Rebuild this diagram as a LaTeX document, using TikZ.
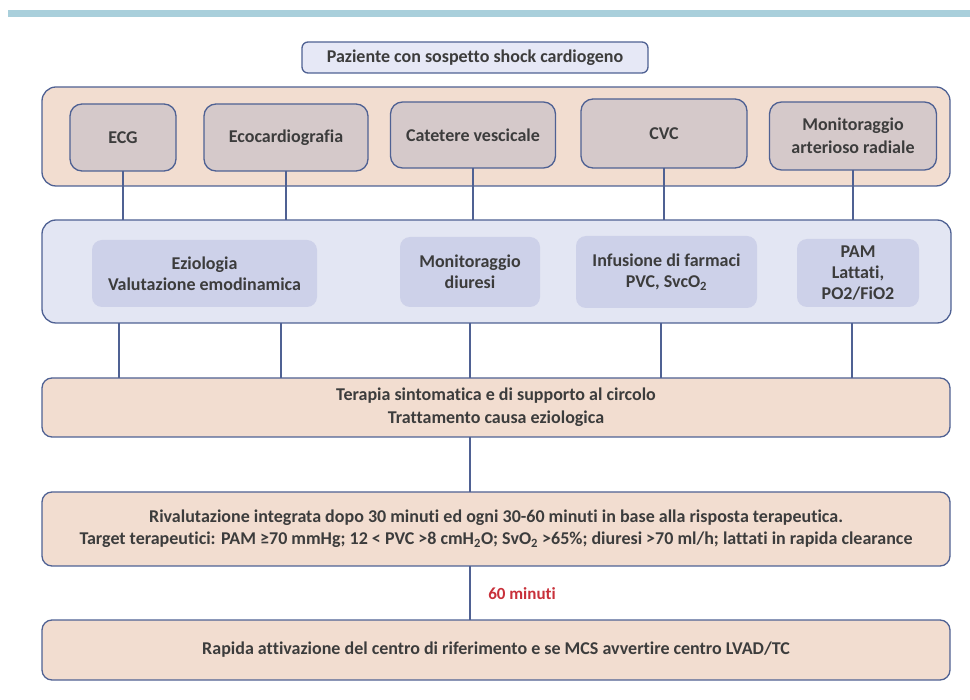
\documentclass[tikz,border=0pt]{standalone}
\usepackage{fontspec}
\setmainfont{Carlito}[Ligatures={NoCommon}]
\definecolor{bar}{HTML}{A9CFDB}
\definecolor{bdr}{HTML}{4F6193}
\definecolor{peach}{HTML}{F2DDD0}
\definecolor{mauve}{HTML}{D5C9CA}
\definecolor{lav}{HTML}{E3E6F3}
\definecolor{lavin}{HTML}{CDD1E9}
\definecolor{titlef}{HTML}{E6E8F6}
\definecolor{txt}{HTML}{3C3C3C}
\definecolor{redt}{HTML}{C8303A}
\tikzset{
  grp/.style={draw=bdr, line width=1.3pt, rounded corners=14pt, inner sep=0pt, outer sep=0pt},
  topbox/.style={draw=bdr, line width=1.3pt, fill=mauve, rounded corners=12pt, inner sep=2pt, outer sep=0pt,
     align=center, text=txt, font=\fontsize{18}{23}\selectfont\bfseries},
  midbox/.style={fill=lavin, rounded corners=10pt, inner sep=2pt, outer sep=0pt,
     align=center, text=txt, font=\fontsize{18}{21}\selectfont\bfseries},
  conn/.style={draw=bdr, line width=1.4pt},
  bigtxt/.style={align=center, text=txt, font=\fontsize{18}{23}\selectfont\bfseries}
}
\begin{document}
\begin{tikzpicture}[x=1pt,y=-1pt]
\useasboundingbox (0,0) rectangle (970,700);
\fill[bar] (8,10) rectangle (970,17);
% title
\node[grp, fill=titlef, rounded corners=6pt, minimum width=346pt, minimum height=31pt, bigtxt] (title) at (475,57.5) {Paziente con sospetto shock cardiogeno};
% top group
\node[grp, fill=peach, minimum width=908pt, minimum height=99pt] (topg) at (496,136.5) {};
\node[topbox, minimum width=106pt, minimum height=67pt] (ecg) at (123,137.5) {ECG};
\node[topbox, minimum width=164pt, minimum height=67pt] (eco) at (286,137.5) {Ecocardiografia};
\node[topbox, minimum width=165pt, minimum height=66pt] (cat) at (473,135) {Catetere vescicale};
\node[topbox, minimum width=166pt, minimum height=69pt] (cvc) at (664,133.5) {CVC};
\node[topbox, minimum width=167pt, minimum height=68pt] (mon) at (853,136) {Monitoraggio\\arterioso radiale};
% middle group
\node[grp, fill=lav, minimum width=909pt, minimum height=103pt] (midg) at (496.5,271.5) {};
\node[midbox, minimum width=225pt, minimum height=67pt] (ezi) at (204.5,273.5) {Eziologia\\Valutazione emodinamica};
\node[midbox, minimum width=140pt, minimum height=70pt] (diu) at (470,272) {Monitoraggio\\diuresi};
\node[midbox, minimum width=181pt, minimum height=72pt] (inf) at (666.5,272) {Infusione di farmaci\\PVC, SvcO\textsubscript{2}};
\node[midbox, minimum width=122pt, minimum height=68pt] (pam) at (858,273) {PAM\\Lattati,\\PO2/FiO2};
% connectors top -> middle
\foreach \n in {ecg,eco,cat,cvc,mon}
  \draw[conn] (\n.south) -- (\n.south |- midg.north);
% lower boxes
\node[grp, fill=peach, rounded corners=10pt, minimum width=908pt, minimum height=59pt, bigtxt] (ter) at (496,407.5) {Terapia sintomatica e di supporto al circolo\\Trattamento causa eziologica};
\node[grp, fill=peach, rounded corners=10pt, minimum width=908pt, minimum height=74pt, bigtxt, font=\fontsize{18}{22}\selectfont\bfseries] (riv) at (496,529) {Rivalutazione integrata dopo 30 minuti ed ogni 30-60 minuti in base alla risposta terapeutica.\\Target terapeutici: PAM ≥70 mmHg; 12 < PVC >8 cmH\textsubscript{2}O; SvO\textsubscript{2} >65\%; diuresi >70 ml/h; lattati in rapida clearance};
\node[grp, fill=peach, rounded corners=10pt, minimum width=908pt, minimum height=60pt, bigtxt] (rap) at (496,650) {Rapida attivazione del centro di riferimento e se MCS avvertire centro LVAD/TC};
% connectors middle -> terapia
\foreach \x in {119,281,470,661,852}{
  \coordinate (cx) at (\x,0);
  \draw[conn] (cx |- midg.south) -- (cx |- ter.north);
}
\coordinate (cm) at (470,0);
\draw[conn] (cm |- ter.south) -- (cm |- riv.north);
\draw[conn] (cm |- riv.south) -- (cm |- rap.north);
\node[text=redt, font=\fontsize{17}{20}\selectfont\bfseries] (sixty) at (522,594) {60 minuti};
\end{tikzpicture}
\end{document}
